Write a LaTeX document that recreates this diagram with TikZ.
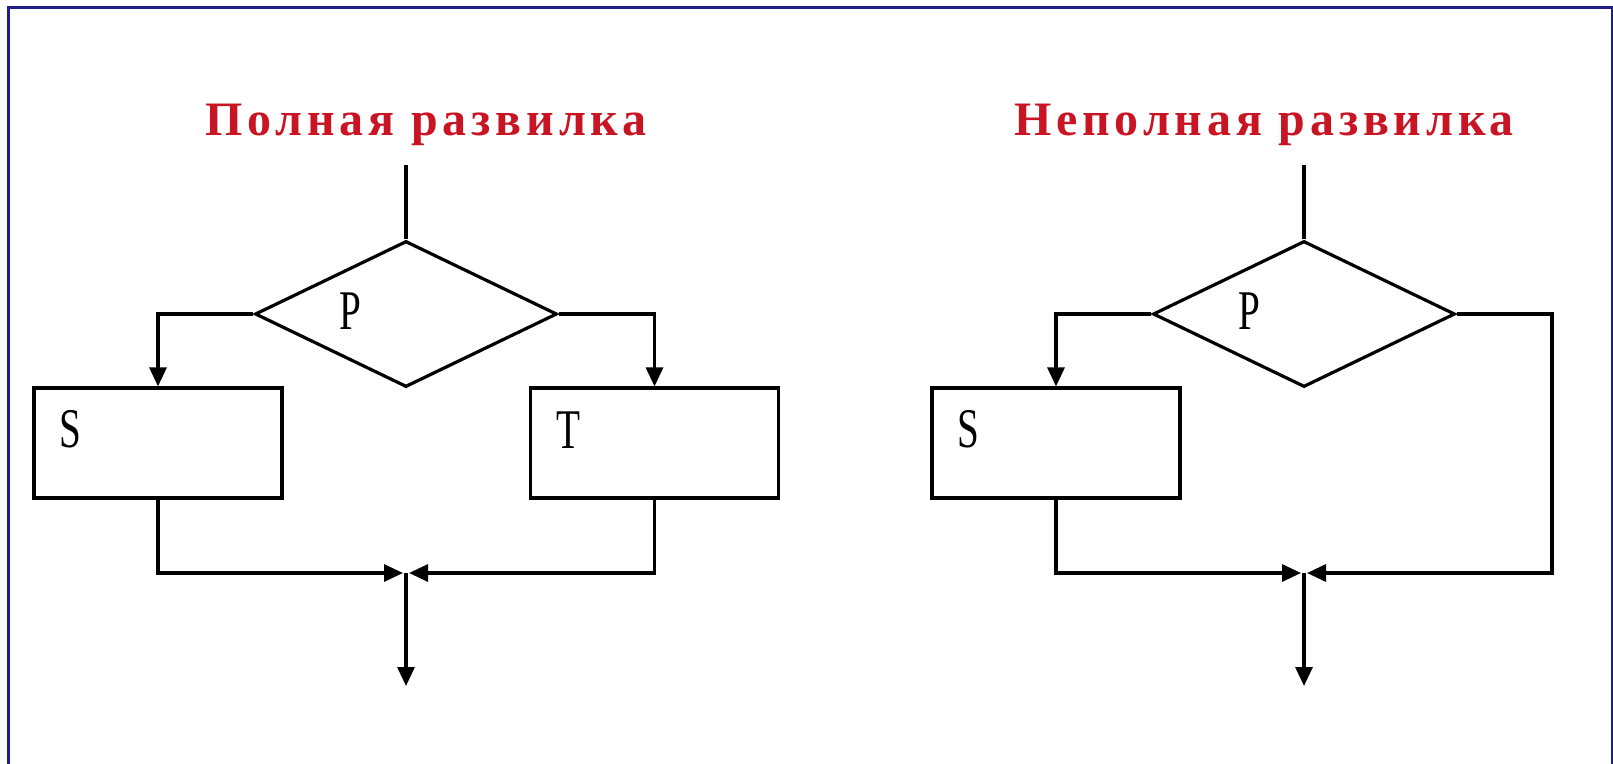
\documentclass[tikz,border=0pt]{standalone}
\usepackage{fontspec}
\setmainfont{Liberation Serif}
\newfontfamily\headfont{Liberation Serif}[LetterSpace=10]
\newfontfamily\letterfont{Liberation Serif}[FakeStretch=0.7]
\usetikzlibrary{arrows.meta}
\usetikzlibrary{shapes.geometric}
\definecolor{titlered}{RGB}{200, 20, 35}
\definecolor{framenavy}{RGB}{30, 30, 135}

\begin{document}
\begin{tikzpicture}[x = 1pt, y = -1pt, line width = 3.2pt,
	arr/.style = {-{Triangle[length = 19pt, width = 17pt]}},
	cond/.style = {diamond, draw, minimum width = 302pt, minimum height = 146pt, inner sep = 0pt},
	block/.style = {rectangle, draw, minimum width = 248pt, minimum height = 110pt, inner sep = 0pt},
	lettr/.style = {font = \letterfont\fontsize{56}{56}\selectfont, inner sep = 0pt},
	head/.style = {text = titlered, font = \headfont\bfseries\fontsize{48}{48}\selectfont, anchor = base, inner sep = 0pt}]
			\useasboundingbox (0,0) rectangle (1613,763);
			\draw[framenavy, line width = 3pt] (8,770) -- (8,7) -- (1612,7) -- (1612,770);
			% full branch
			\node (hL) at (426,135) [head] {Полная развилка};
			\coordinate (inL) at (406,165);
			\node (dL) at (406,314) [cond] {};
			\node (pL) at (350,311) [lettr] {P};
			\node (sL) at (158,443) [block] {};
			\node (tL) at (654.5,443) [block] {};
			\node (lsL) at (70,429) [lettr] {S};
			\node (ltL) at (568,430) [lettr] {T};
			\coordinate (jL) at (406,573);
			\coordinate (outL) at (406,686);
			\draw (inL) -- (dL.north);
			\draw[arr] (dL.west) -| (sL.north);
			\draw[arr] (dL.east) -| (tL.north);
			\draw[arr, shorten > = 3pt] (sL.south) |- (jL);
			\draw[arr, shorten > = 3pt] (tL.south) |- (jL);
			\draw[arr] (jL) -- (outL);
			% short branch
			\node (hR) at (1264,135) [head] {Неполная развилка};
			\coordinate (inR) at (1304,165);
			\node (dR) at (1304,314) [cond] {};
			\node (pR) at (1249,311) [lettr] {P};
			\node (sR) at (1056,443) [block] {};
			\node (lsR) at (968,429) [lettr] {S};
			\coordinate (jR) at (1304,573);
			\coordinate (bendR) at (1552,573);
			\coordinate (outR) at (1304,686);
			\draw (inR) -- (dR.north);
			\draw[arr] (dR.west) -| (sR.north);
			\draw[arr, shorten > = 3pt] (sR.south) |- (jR);
			\draw[arr, shorten > = 3pt] (dR.east) -| (bendR) -- (jR);
			\draw[arr] (jR) -- (outR);
\end{tikzpicture}
\end{document}
